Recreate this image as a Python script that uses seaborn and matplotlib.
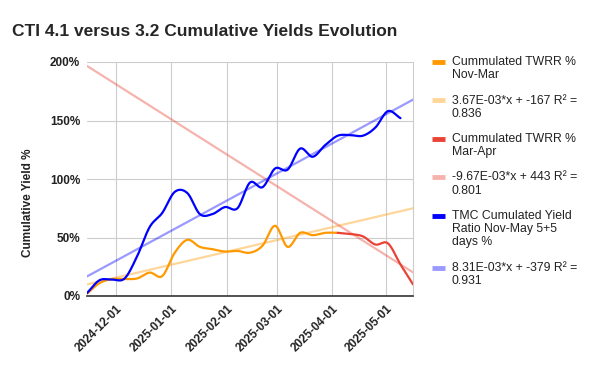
import numpy as np
import pandas as pd
import matplotlib
matplotlib.use("Agg")
import matplotlib.pyplot as plt
import matplotlib.dates as mdates
from matplotlib.lines import Line2D
from matplotlib.ticker import PercentFormatter
import seaborn as sns

# weekly readings (Fridays)
fridays = ["2024-11-15", "2024-11-22", "2024-11-29", "2024-12-06", "2024-12-13",
           "2024-12-20", "2024-12-27", "2025-01-03", "2025-01-10", "2025-01-17",
           "2025-01-24", "2025-01-31", "2025-02-07", "2025-02-14", "2025-02-21",
           "2025-02-28", "2025-03-07", "2025-03-14", "2025-03-21", "2025-03-28",
           "2025-04-04", "2025-04-11", "2025-04-18", "2025-04-25", "2025-05-02",
           "2025-05-09", "2025-05-16"]

# values in %
twrr_nov_mar = [2, 11, 14.5, 14.5, 15, 20, 17, 37, 48, 42, 40, 38, 38.5, 37,
                43, 60, 42, 54, 52, 54, 54]
twrr_mar_apr = [54, 53, 51, 44, 45, 27, 10]
tmc_yield = [2.5, 13.5, 14, 15, 34, 59, 71, 89, 88, 70, 70, 76, 75, 97, 93,
             109, 108, 126, 119, 129, 137, 137.5, 137, 144, 158, 152]

labels = ["Cummulated TWRR %\nNov-Mar",
          "3.67E-03*x + -167 R\u00b2 =\n0.836",
          "Cummulated TWRR %\nMar-Apr",
          "-9.67E-03*x + 443 R\u00b2 =\n0.801",
          "TMC Cumulated Yield\nRatio Nov-May 5+5\ndays %",
          "8.31E-03*x + -379 R\u00b2 =\n0.931"]
colors = ["#ff9900", "#ea4335", "#0000ff"]
month_ticks = ["2024-12-01", "2025-01-01", "2025-02-01", "2025-03-01",
               "2025-04-01", "2025-05-01"]

series = [
    (pd.to_datetime(fridays[:21]), np.array(twrr_nov_mar)),
    (pd.to_datetime(fridays[20:]), np.array(twrr_mar_apr)),
    (pd.to_datetime(fridays[:26]), np.array(tmc_yield)),
]


def smooth(dates, vals, n=25):
    # catmull-rom curve through the points, like the sheets "smooth" option
    x = mdates.date2num(dates)
    y = vals.astype(float)
    m = np.gradient(y, x)
    xs, ys = [], []
    for i in range(len(x) - 1):
        h = x[i + 1] - x[i]
        t = np.linspace(0, 1, n, endpoint=False)
        h00 = 2 * t**3 - 3 * t**2 + 1
        h10 = t**3 - 2 * t**2 + t
        h01 = -2 * t**3 + 3 * t**2
        h11 = t**3 - t**2
        xs.append(x[i] + t * h)
        ys.append(h00 * y[i] + h10 * h * m[i] + h01 * y[i + 1] + h11 * h * m[i + 1])
    xs.append([x[-1]])
    ys.append([y[-1]])
    return pd.DataFrame({"date": mdates.num2date(np.concatenate(xs)),
                         "val": np.concatenate(ys)})


sns.set_style("white")
plt.rcParams["font.family"] = ["Liberation Sans", "DejaVu Sans"]

fig = plt.figure(figsize=(6, 3.71), dpi=100)
ax = fig.add_axes([87 / 600, 1 - 296 / 371, 326 / 600, 234 / 371])

xmin, xmax = pd.Timestamp(fridays[0]), pd.Timestamp(fridays[-1])

# trend lines (linear fit on each series), drawn across full range
for (d, v), c in zip(series, colors):
    k, b = np.polyfit(mdates.date2num(d), v, 1)
    xr = mdates.date2num([xmin, xmax])
    tr = pd.DataFrame({"date": [xmin, xmax], "val": k * xr + b})
    sns.lineplot(data=tr, x="date", y="val", color=c, alpha=0.4, lw=1.6, ax=ax, zorder=2)

for (d, v), c in zip(series, colors):
    sns.lineplot(data=smooth(d, v), x="date", y="val", color=c, lw=1.6, ax=ax,
                 zorder=3, sort=False)

ax.set_xlim(xmin, xmax)
ax.set_ylim(0, 200)
ax.set_yticks([0, 50, 100, 150, 200])
ax.yaxis.set_major_formatter(PercentFormatter(decimals=0))
ax.set_xticks(pd.to_datetime(month_ticks))
ax.xaxis.set_major_formatter(mdates.DateFormatter("%Y-%m-%d"))
ax.grid(True, color="#cccccc", lw=0.8)
ax.tick_params(length=0, labelsize=8.5, colors="#222222", pad=5)
for lab in ax.get_yticklabels():
    lab.set_fontweight("bold")
for lab in ax.get_xticklabels():
    lab.set_fontweight("bold")
    lab.set_rotation(45)
    lab.set_ha("right")
    lab.set_rotation_mode("anchor")
for s in ["top", "left"]:
    ax.spines[s].set_visible(False)
ax.spines["right"].set_color("#cccccc")
ax.spines["bottom"].set_color("#333333")
ax.spines["bottom"].set_linewidth(1.2)

ax.set_xlabel("")
ax.set_ylabel("Cumulative Yield %", fontsize=8.5, fontweight="bold", color="#222222")
ax.yaxis.set_label_coords(-0.163, 0.397)

fig.text(12 / 600, 1 - 31 / 371, "CTI 4.1 versus 3.2 Cumulative Yields Evolution",
         fontsize=12.5, fontweight="bold", va="center", ha="left")

# legend on the right, key aligned with the first line of each label
line_h = 1.12 * 8.8 * 100 / 72
y_px = 62
for i, lab in enumerate(labels):
    c = colors[i // 2]
    alpha = 1 if i % 2 == 0 else 0.4
    n_extra = lab.count("\n")
    yf = 1 - y_px / 371
    fig.add_artist(Line2D([432 / 600, 445 / 600], [yf, yf], color=c, alpha=alpha,
                          lw=3.5, solid_capstyle="butt"))
    fig.text(452 / 600, 1 - (y_px + n_extra * line_h / 2) / 371, lab, fontsize=8.8,
             color="#222222", va="center", ha="left", linespacing=1.12)
    y_px += n_extra * line_h + line_h + 11

fig.savefig("out.png", dpi=100)
